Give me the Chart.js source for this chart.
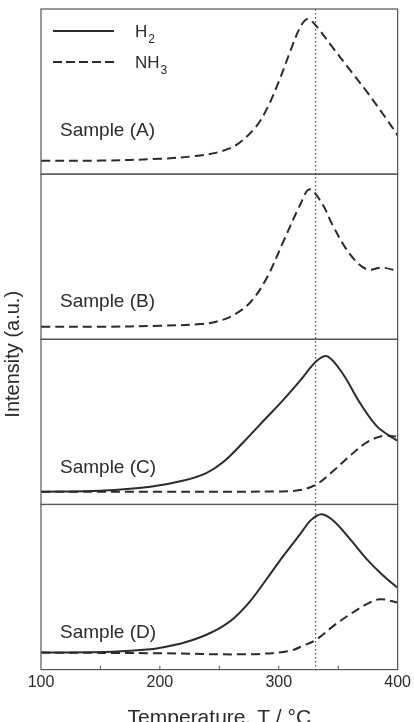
<!DOCTYPE html>
<html>
<head>
<meta charset="utf-8">
<script src="https://cdn.jsdelivr.net/npm/chart.js@4.4.1/dist/chart.umd.min.js"></script>
<style>
  html, body { margin: 0; padding: 0; background: #fff; overflow: hidden; }
  #wrap { width: 414px; height: 731px; }
</style>
</head>
<body>
<div id="wrap"><canvas id="tpd"></canvas></div>
<script>
// Temperatures (°C) and intensities (% of each panel height)
const tempA_nh3 = [100, 150, 200, 230, 250, 265, 280, 290, 300, 310, 318, 324, 330, 345, 360, 375, 390, 400];
const nh3A      = [8.1, 8.2, 9.3, 11, 13.5, 18, 28, 39.5, 56, 75, 89, 94, 91, 77, 63, 49, 34, 23.5];

const tempB_nh3 = [100, 150, 200, 234, 248, 261, 276, 290, 304, 318, 326, 337, 345, 360, 374, 387, 400];
const nh3B      = [7.6, 7.6, 8.2, 9.2, 10.8, 14.3, 22.3, 37.3, 59.4, 81.5, 90.8, 81.5, 69.5, 51.4, 42.4, 43.4, 41.4];

const tempC_h2  = [100, 150, 192, 220, 239, 253, 270, 287, 304, 318, 332, 341, 354, 368, 382, 393, 400];
const h2C       = [7.7, 8.3, 10.7, 14.5, 19, 25.5, 37.5, 50.5, 63.5, 75, 87, 89.7, 79, 61.8, 47.7, 41.6, 38.6];
const tempC_nh3 = [100, 200, 300, 318, 332, 346, 360, 374, 388, 400];
const nh3C      = [7.7, 7.7, 7.9, 8.7, 12.3, 20.4, 29.5, 37.6, 41.6, 41];

const tempD_h2  = [100, 160, 192, 206, 220, 234, 248, 262, 276, 290, 304, 318, 327, 336, 346, 360, 374, 388, 400];
const h2D       = [10.3, 10.8, 12.3, 14, 16.3, 19.6, 24.2, 31, 41.5, 55, 69, 82, 90.5, 94.1, 90.1, 79, 66.9, 56.8, 49.5];
const tempD_nh3 = [100, 200, 275, 309, 320, 332, 346, 360, 374, 385, 400];
const nh3D      = [10.3, 9.9, 9.3, 11.3, 14.3, 18.4, 26.5, 33.5, 39.6, 42.6, 40.6];

const panelKeys = ["A", "B", "C", "D"];
const markerT = 331; // dotted reference line
const xTickValues = [100, 200, 300, 400];

const ink = "#2b2b2b";
const fontFamily = '"Liberation Sans", Arial, sans-serif';
Chart.defaults.font.family = fontFamily;
Chart.defaults.color = ink;

const pts = (xs, ys) => xs.map((x, i) => ({ x: x, y: ys[i] }));

function series(label, xs, ys, axis, dashed) {
  return {
    label: label,
    data: pts(xs, ys),
    yAxisID: axis,
    borderColor: ink,
    borderWidth: 2,
    borderDash: dashed ? [9, 5] : [],
    pointRadius: 0,
    fill: false,
    tension: 0.35,
    borderJoinStyle: "round"
  };
}

function panelAxis() {
  return {
    type: "linear",
    min: 0,
    max: 100,
    stack: "panels",
    stackWeight: 1,
    display: false
  };
}

// frames, marker line, inward ticks, labels, legend, y title
const decor = {
  id: "decor",
  afterDatasetsDraw(chart) {
    const { ctx, chartArea: a, scales } = chart;
    const x = scales.x;
    ctx.save();

    ctx.strokeStyle = "#555";
    ctx.lineWidth = 1.2;
    panelKeys.forEach((k) => {
      const s = scales["y" + k];
      ctx.strokeRect(a.left, s.top, a.right - a.left, s.bottom - s.top);
    });

    // minor ticks pointing into the bottom panel
    ctx.lineWidth = 1;
    x.ticks.forEach((t) => {
      if (t.value <= x.min || t.value >= x.max) return;
      const px = x.getPixelForValue(t.value);
      ctx.beginPath();
      ctx.moveTo(px, a.bottom);
      ctx.lineTo(px, a.bottom - 4);
      ctx.stroke();
    });

    ctx.strokeStyle = ink;
    ctx.setLineDash([1.5, 2.5]);
    const mx = x.getPixelForValue(markerT);
    ctx.beginPath();
    ctx.moveTo(mx, a.top);
    ctx.lineTo(mx, a.bottom);
    ctx.stroke();
    ctx.setLineDash([]);

    ctx.fillStyle = ink;
    ctx.font = "19px " + fontFamily;
    ctx.textAlign = "left";
    ctx.textBaseline = "middle";
    const labelLevel = [26, 22.5, 22.5, 22.5];
    panelKeys.forEach((k, i) => {
      ctx.fillText("Sample (" + k + ")", a.left + 19, scales["y" + k].getPixelForValue(labelLevel[i]));
    });

    // legend
    ctx.lineWidth = 2;
    ctx.strokeStyle = ink;
    const legend = [
      { base: "H", sub: "2", dash: [], y: a.top + 22 },
      { base: "NH", sub: "3", dash: [9, 4], y: a.top + 53 }
    ];
    ctx.textBaseline = "alphabetic";
    legend.forEach((item) => {
      ctx.setLineDash(item.dash);
      ctx.beginPath();
      ctx.moveTo(a.left + 12, item.y);
      ctx.lineTo(a.left + 73, item.y);
      ctx.stroke();
      ctx.setLineDash([]);
      ctx.font = "17px " + fontFamily;
      const tx = a.left + 94;
      ctx.fillText(item.base, tx, item.y + 6);
      const w = ctx.measureText(item.base).width;
      ctx.font = "12px " + fontFamily;
      ctx.fillText(item.sub, tx + w + 1, item.y + 12);
    });

    ctx.font = "20px " + fontFamily;
    ctx.textAlign = "center";
    ctx.textBaseline = "middle";
    ctx.translate(13, (a.top + a.bottom) / 2 + 15);
    ctx.rotate(-Math.PI / 2);
    ctx.fillText("Intensity (a.u.)", 0, 0);

    ctx.restore();
  }
};

new Chart(document.getElementById("tpd"), {
  type: "line",
  data: {
    datasets: [
      series("NH3 (A)", tempA_nh3, nh3A, "yA", true),
      series("NH3 (B)", tempB_nh3, nh3B, "yB", true),
      series("H2 (C)", tempC_h2, h2C, "yC", false),
      series("NH3 (C)", tempC_nh3, nh3C, "yC", true),
      series("H2 (D)", tempD_h2, h2D, "yD", false),
      series("NH3 (D)", tempD_nh3, nh3D, "yD", true)
    ]
  },
  options: {
    responsive: true,
    maintainAspectRatio: false,
    animation: false,
    layout: { padding: { left: 41, right: 16, top: 9, bottom: 0 } },
    plugins: { legend: { display: false }, tooltip: { enabled: false } },
    scales: {
      x: {
        type: "linear",
        min: 100,
        max: 400,
        grid: { display: false, drawTicks: false },
        border: { display: false },
        ticks: {
          stepSize: 50,
          autoSkip: false,
          maxRotation: 0,
          padding: 3,
          font: { size: 16 },
          callback: (v) => (xTickValues.includes(v) ? String(v) : "")
        },
        title: {
          display: true,
          text: "Temperature, T / °C",
          font: { size: 21 },
          padding: { top: 11, bottom: 0 }
        }
      },
      yD: panelAxis(),
      yC: panelAxis(),
      yB: panelAxis(),
      yA: panelAxis()
    }
  },
  plugins: [decor]
});
</script>
</body>
</html>
